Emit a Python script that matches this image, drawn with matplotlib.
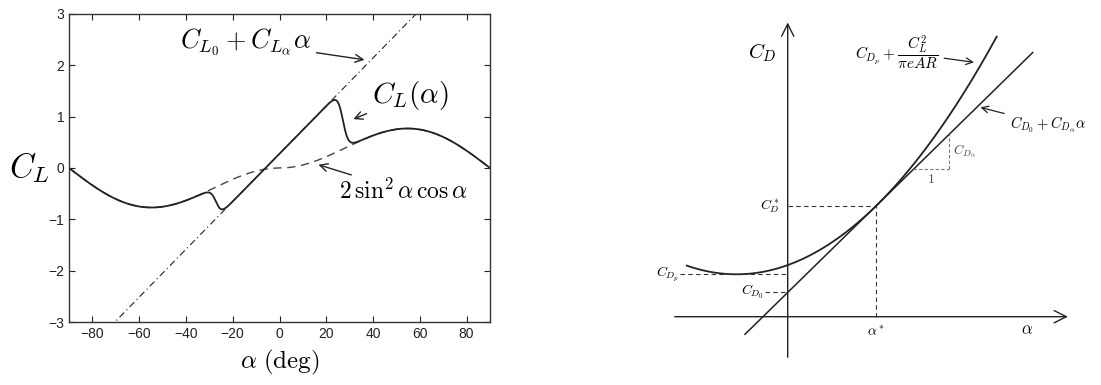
import numpy as np
import matplotlib.pyplot as plt

plt.rcParams['mathtext.fontset'] = 'cm'
plt.rcParams['font.family'] = ['Liberation Sans', 'DejaVu Sans']

# -----------------------
# Lift model parameters
# -----------------------
CL0 = 0.28          # lift at zero angle of attack
CLalpha = 2.67      # lift slope (per rad)
M = 50.0            # blending steepness
alpha0 = np.deg2rad(27.0)   # stall angle

alpha_deg = np.linspace(-90, 90, 1801)

# -----------------------
# Drag polar parameters (schematic)
# -----------------------
CDp = 0.424         # parasitic drag (minimum of the polar)
alpha_min = -0.512  # angle of minimum drag
k_ind = 0.351       # induced drag factor
alpha_star = 0.883  # tangent point
alpha_right = np.linspace(-1.01, 2.09, 400)

ink = '#222222'

fig = plt.figure(figsize=(11.01, 3.85), dpi=100)

# -----------------------
# Left: C_L vs alpha
# -----------------------
ax = fig.add_axes([69 / 1101, 1 - 322 / 385, 421 / 1101, 308 / 385])

a = np.deg2rad(alpha_deg)
cl_lin = CL0 + CLalpha * a
cl_plate = 2 * np.sign(a) * np.sin(a) ** 2 * np.cos(a)
sigma = (1 + np.exp(-M * (a - alpha0)) + np.exp(M * (a + alpha0))) / \
        ((1 + np.exp(-M * (a - alpha0))) * (1 + np.exp(M * (a + alpha0))))
cl = (1 - sigma) * cl_lin + sigma * cl_plate

ax.plot(alpha_deg, cl_lin, color=ink, lw=0.8, ls=(0, (6, 3, 1, 3)))
ax.plot(alpha_deg, cl_plate, color='#444444', lw=1.0, ls=(0, (6, 4)))
ax.plot(alpha_deg, cl, color=ink, lw=1.3)

ax.set_xlim(-90, 90)
ax.set_ylim(-3, 3)
ax.set_xticks(np.arange(-80, 81, 20))
ax.set_yticks(np.arange(-3, 4, 1))
ax.tick_params(direction='in', top=True, right=True, length=4, labelsize=10,
               colors=ink)
for s in ax.spines.values():
    s.set_color('#333333')
    s.set_linewidth(1.0)

ax.set_xlabel(r'$\alpha\ (\mathrm{deg})$', fontsize=18, labelpad=5)
ax.set_ylabel(r'$C_L$', fontsize=24, rotation=0, va='center')
ax.yaxis.set_label_coords(-0.095, 0.5)

arrow = dict(arrowstyle='->', color=ink, lw=1.0, mutation_scale=14)
ax.annotate(r'$C_{L_0} + C_{L_\alpha}\alpha$', xy=(37.5, 2.1), xytext=(-42.5, 2.45),
            fontsize=19, va='center', ha='left', arrowprops=arrow)
ax.annotate(r'$C_L(\alpha)$', xy=(30.5, 0.93), xytext=(39.5, 1.42),
            fontsize=21, va='center', ha='left', arrowprops=arrow)
ax.annotate(r'$2\,\sin^2\alpha\,\cos\alpha$', xy=(15.5, 0.08), xytext=(25.5, -0.45),
            fontsize=17, va='center', ha='left', arrowprops=arrow)

# -----------------------
# Right: C_D vs alpha (schematic)
# -----------------------
bx = fig.add_axes([640 / 1101, 0, 461 / 1101, 1])
bx.set_xlim((640 - 787.7) / 100, (1101 - 787.7) / 100)
bx.set_ylim((316.7 - 385) / 100, 316.7 / 100)
bx.axis('off')

cd = CDp + k_ind * (alpha_right - alpha_min) ** 2
CD_star = CDp + k_ind * (alpha_star - alpha_min) ** 2
CDalpha = 2 * k_ind * (alpha_star - alpha_min)
CD0 = CD_star - CDalpha * alpha_star

alpha_tan = np.array([-0.427, 2.45])
bx.plot(alpha_right, cd, color=ink, lw=1.3)
bx.plot(alpha_tan, CD0 + CDalpha * alpha_tan, color=ink, lw=1.1)

# coordinate axes with arrow heads
axis_arrow = dict(arrowstyle='->', color=ink, lw=1.0, mutation_scale=22)
bx.annotate('', xy=(0, 2.97), xytext=(0, -0.433), arrowprops=axis_arrow)
bx.annotate('', xy=(2.83, 0), xytext=(-1.157, 0), arrowprops=axis_arrow)

dash = dict(color='#333333', lw=0.8, ls=(0, (4, 3)))
bx.plot([alpha_star, alpha_star], [0, CD_star], **dash)
bx.plot([0, alpha_star], [CD_star, CD_star], **dash)
bx.plot([-1.08, 0], [CDp, CDp], **dash)
bx.plot([-0.23, 0], [CD0, CD0], **dash)

# slope triangle
a1, a2 = 1.256, 1.616
tri = dict(color='#777777', lw=0.8, ls=(0, (3, 2)))
bx.plot([a1, a2], [CD0 + CDalpha * a1] * 2, **tri)
bx.plot([a2, a2], [CD0 + CDalpha * a1, CD0 + CDalpha * a2], **tri)
bx.text((a1 + a2) / 2, CD0 + CDalpha * a1 - 0.1, '$1$', fontsize=10,
        ha='center', va='center', color='#555555')
bx.text(a2 + 0.04, CD0 + CDalpha * (a1 + a2) / 2, r'$C_{D_\alpha}$', fontsize=9.5,
        ha='left', va='center', color='#444444')

bx.text(-0.25, 2.64, r'$C_D$', fontsize=15, ha='center', va='center')
bx.text(2.39, -0.13, r'$\alpha$', fontsize=12, ha='center', va='center')
bx.text(alpha_star, -0.15, r'$\alpha^*$', fontsize=10, ha='center', va='center')
bx.text(-0.08, CD_star, r'$C_D^*$', fontsize=10, ha='right', va='center')
bx.text(-1.08, CDp + 0.01, r'$C_{D_p}$', fontsize=10, ha='right', va='center')
bx.text(-0.24, CD0, r'$C_{D_0}$', fontsize=10, ha='right', va='center')

small_arrow = dict(arrowstyle='->', color=ink, lw=0.9, mutation_scale=12)
bx.annotate(r'$C_{D_p} + \dfrac{C_L^2}{\pi e AR}$', xy=(1.89, 2.54), xytext=(1.51, 2.65),
            fontsize=11, ha='right', va='center', arrowprops=small_arrow)
bx.annotate(r'$C_{D_0} + C_{D_\alpha}\alpha$', xy=(1.9, 2.1), xytext=(2.22, 1.92),
            fontsize=10.5, ha='left', va='center', arrowprops=small_arrow)

fig.savefig('out.png', dpi=100)
